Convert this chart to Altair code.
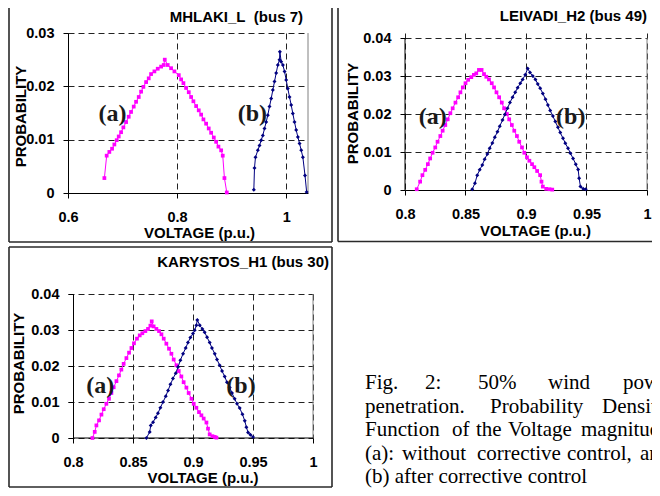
import altair as alt
import pandas as pd

# ---------------- data ----------------
# Panel 1: MHLAKI_L (bus 7)
A_VA = [0.6667, 0.6709, 0.6758, 0.6808, 0.685, 0.6893, 0.693, 0.6973, 0.7015, 0.7065,
        0.7113, 0.7156, 0.7205, 0.7248, 0.7297, 0.734, 0.7382, 0.7432, 0.748, 0.7523,
        0.7584, 0.7645, 0.7707, 0.7755, 0.7774, 0.7828, 0.789, 0.7951, 0.8031, 0.8074,
        0.8116, 0.8165, 0.8214, 0.8257, 0.8299, 0.8349, 0.8397, 0.8441, 0.8483, 0.8532,
        0.858, 0.8624, 0.8673, 0.8716, 0.8758, 0.8808, 0.8837, 0.8868, 0.8911]
A_PA = [0.0028, 0.0070, 0.0077, 0.0083, 0.0091, 0.0099, 0.0106, 0.0114, 0.0123, 0.0133,
        0.0143, 0.0152, 0.0162, 0.0171, 0.0180, 0.0190, 0.0199, 0.0208, 0.0215, 0.0223,
        0.0228, 0.0233, 0.0237, 0.0240, 0.0250, 0.0240, 0.0234, 0.0228, 0.0221, 0.0213,
        0.0206, 0.0197, 0.0189, 0.0180, 0.0172, 0.0163, 0.0155, 0.0147, 0.0138, 0.0130,
        0.0121, 0.0113, 0.0104, 0.0096, 0.0087, 0.0080, 0.0070, 0.0028, 0.0001]
A_VB = [0.9407, 0.9419, 0.9437, 0.948, 0.9511, 0.9542, 0.9572, 0.9603, 0.9633, 0.9663,
        0.9694, 0.9725, 0.9755, 0.9786, 0.9817, 0.9847, 0.9878, 0.9884, 0.9909, 0.9939,
        0.997, 1.0, 1.003, 1.0061, 1.0092, 1.0122, 1.0153, 1.0184, 1.0214, 1.0245,
        1.0276, 1.0306, 1.0345, 1.0375]
A_PB = [0.0006, 0.0047, 0.0067, 0.0080, 0.0089, 0.0099, 0.0108, 0.0121, 0.0133, 0.0146,
        0.0162, 0.0177, 0.0193, 0.0209, 0.0225, 0.0240, 0.0250, 0.0265, 0.0246, 0.0240,
        0.0228, 0.0212, 0.0196, 0.0180, 0.0165, 0.0149, 0.0133, 0.0118, 0.0105, 0.0093,
        0.0080, 0.0067, 0.0033, 0.0002]

# Panel 2: LEIVADI_H2 (bus 49)
B_VA = [0.8097, 0.8125, 0.8144, 0.8167, 0.8189, 0.8208, 0.8228, 0.825, 0.8269, 0.8292,
        0.8311, 0.8333, 0.8353, 0.8375, 0.8394, 0.8417, 0.8439, 0.8458, 0.8478, 0.85,
        0.8522, 0.8548, 0.8569, 0.8589, 0.8611, 0.8633, 0.8653, 0.8672, 0.8694, 0.8717,
        0.8736, 0.8756, 0.8778, 0.88, 0.8819, 0.8842, 0.8861, 0.8883, 0.8903, 0.8925,
        0.8944, 0.8967, 0.8986, 0.9008, 0.9028, 0.905, 0.9069, 0.9092, 0.9117, 0.9128,
        0.9139, 0.9167, 0.9194, 0.9217]
B_PA = [0.0002, 0.0022, 0.0039, 0.0053, 0.0068, 0.0083, 0.0098, 0.0112, 0.0127, 0.0142,
        0.0156, 0.0171, 0.0186, 0.0202, 0.0215, 0.0230, 0.0244, 0.0257, 0.0270, 0.0281,
        0.0290, 0.0297, 0.0303, 0.0307, 0.0316, 0.0316, 0.0305, 0.0298, 0.0291, 0.0281,
        0.0270, 0.0257, 0.0244, 0.0230, 0.0215, 0.0200, 0.0186, 0.0171, 0.0156, 0.0142,
        0.0127, 0.0112, 0.0098, 0.0086, 0.0077, 0.0068, 0.0060, 0.0050, 0.0039, 0.0022,
        0.0009, 0.0003, 0.0002, 0.0001]
B_VB = [0.8556, 0.8578, 0.8597, 0.8617, 0.8639, 0.8658, 0.8681, 0.87, 0.8722, 0.8742,
        0.8764, 0.8783, 0.8806, 0.8825, 0.8847, 0.8867, 0.8889, 0.8911, 0.8931, 0.8953,
        0.8972, 0.8994, 0.9014, 0.9033, 0.9056, 0.9078, 0.9097, 0.9117, 0.9139, 0.9161,
        0.9181, 0.92, 0.9222, 0.9242, 0.9264, 0.9283, 0.9306, 0.9325, 0.9347, 0.9367,
        0.9389, 0.9411, 0.9431, 0.9439, 0.945, 0.9472, 0.9494]
B_PB = [0.0002, 0.0018, 0.0039, 0.0053, 0.0066, 0.0081, 0.0095, 0.0110, 0.0124, 0.0139,
        0.0153, 0.0168, 0.0184, 0.0199, 0.0215, 0.0230, 0.0244, 0.0257, 0.0269, 0.0281,
        0.0291, 0.0303, 0.0320, 0.0309, 0.0300, 0.0291, 0.0279, 0.0268, 0.0254, 0.0239,
        0.0224, 0.0209, 0.0195, 0.0180, 0.0165, 0.0151, 0.0136, 0.0123, 0.0110, 0.0097,
        0.0083, 0.0068, 0.0054, 0.0031, 0.0009, 0.0003, 0.0002]

# Panel 3: KARYSTOS_H1 (bus 30)
C_VA = [0.8162, 0.8181, 0.8195, 0.8217, 0.8237, 0.8256, 0.8278, 0.83, 0.832, 0.8339,
        0.8362, 0.8383, 0.8403, 0.8422, 0.8445, 0.8467, 0.8487, 0.8508, 0.8533, 0.8556,
        0.8578, 0.8603, 0.8625, 0.8645, 0.8656, 0.8672, 0.8695, 0.8717, 0.8737, 0.8756,
        0.8778, 0.88, 0.882, 0.8839, 0.8862, 0.8881, 0.8903, 0.8922, 0.8945, 0.8964,
        0.8987, 0.9006, 0.9028, 0.905, 0.907, 0.9089, 0.9112, 0.9125, 0.9139, 0.9162,
        0.9181, 0.9195]
C_PA = [0.0000, 0.0017, 0.0035, 0.0049, 0.0065, 0.0080, 0.0095, 0.0109, 0.0125, 0.0141,
        0.0158, 0.0174, 0.0190, 0.0206, 0.0222, 0.0237, 0.0250, 0.0263, 0.0276, 0.0285,
        0.0291, 0.0297, 0.0303, 0.0312, 0.0324, 0.0310, 0.0303, 0.0297, 0.0288, 0.0276,
        0.0262, 0.0248, 0.0234, 0.0218, 0.0202, 0.0186, 0.0171, 0.0155, 0.0140, 0.0125,
        0.0109, 0.0095, 0.0084, 0.0072, 0.0063, 0.0054, 0.0043, 0.0026, 0.0010, 0.0005,
        0.0003, 0.0001]
C_VB = [0.8612, 0.8639, 0.8648, 0.8667, 0.8689, 0.8708, 0.8728, 0.875, 0.8773, 0.8792,
        0.8812, 0.8833, 0.8856, 0.8875, 0.8895, 0.8917, 0.8939, 0.8958, 0.8978, 0.9,
        0.9014, 0.9028, 0.9036, 0.9056, 0.9078, 0.9097, 0.9117, 0.9139, 0.9158, 0.9181,
        0.92, 0.9222, 0.9242, 0.9264, 0.9283, 0.9306, 0.9325, 0.9347, 0.9367, 0.9389,
        0.9412, 0.9431, 0.9445, 0.9459, 0.9478, 0.95]
C_PB = [0.0000, 0.0017, 0.0035, 0.0044, 0.0057, 0.0069, 0.0084, 0.0100, 0.0116, 0.0132,
        0.0149, 0.0165, 0.0180, 0.0197, 0.0216, 0.0234, 0.0250, 0.0265, 0.0279, 0.0290,
        0.0299, 0.0313, 0.0328, 0.0313, 0.0303, 0.0294, 0.0280, 0.0265, 0.0250, 0.0234,
        0.0218, 0.0202, 0.0186, 0.0171, 0.0155, 0.0140, 0.0125, 0.0109, 0.0095, 0.0083,
        0.0066, 0.0048, 0.0030, 0.0015, 0.0009, 0.0003]

TITLES = ["MHLAKI_L\u00a0 (bus 7)", "LEIVADI_H2 (bus 49)", "KARYSTOS_H1 (bus 30)"]
X_TITLE = "VOLTAGE (p.u.)"
Y_TITLE = "PROBABILITY"
SERIES_LABELS = ["(a)", "(b)"]
X_TICKS_A = [0.6, 0.8, 1.0]
Y_TICKS_A = [0, 0.01, 0.02, 0.03]
X_TICKS_BC = [0.8, 0.85, 0.9, 0.95, 1.0]
Y_TICKS_BC = [0, 0.01, 0.02, 0.03, 0.04]
# where the (a)/(b) annotations sit, in data units (voltage, probability)
LABEL_V = {"A": [0.6814, 0.938], "B": [0.8229, 0.937], "C": [0.8227, 0.940]}
LABEL_P = {"A": [0.0149, 0.0149], "B": [0.0191, 0.0191], "C": [0.0144, 0.0144]}

CAPTION_WORDS = [
    ["Fig.", "2:", "50%", "wind", "power"],
    ["penetration.", "Probability", "Density"],
    ["Function", "of", "the", "Voltage", "magnitude"],
    ["(a):", "without", "corrective", "control,", "and"],
    ["(b) after corrective control"],
]

# ---------------- layout / style ----------------
MAG, NAVY = "#FF00FF", "#000080"
SANS, SERIF = "Liberation Sans", "Liberation Serif"
FRAME = "#2a2a2a"
# justified caption: left edge of every word (page px) and line baselines
CAPTION_X = [[365, 425, 478, 548, 623], [365, 490, 602], [365, 452, 476, 508, 581],
             [365, 402, 477, 567, 640], [365]]
CAPTION_BASE = [389, 412.5, 436, 459.5, 483]
PAD_L, PAD_T = 60, 25          # page origin of the first plot = (8+60, 8+25)
SVG_W, SVG_H = 644, 480
T_ORIGIN = (405, 294)


def one():
    return pd.DataFrame({"k": [0]})


def series_df(v, p):
    return pd.DataFrame({"v": v, "p": p, "i": list(range(len(v)))})


def panel(key, va, pa, vb, pb, xdom, ydom, xticks, yticks, w, h, title, tpos,
          xt, yt, frame, x_domain_line=True, y_domain_line=True, yoff=0,
          extra=None):
    xs = alt.Scale(domain=xdom, nice=False, zero=False)
    ys = alt.Scale(domain=ydom, nice=False, zero=False)
    common = dict(grid=True, gridDash=[6, 4], gridColor="#222", gridWidth=1,
                  gridOpacity=1, domainColor="#000", domainWidth=1,
                  tickColor="#000", tickSize=5, tickWidth=1,
                  labelFont=SANS, labelFontWeight="bold", labelFontSize=14.5,
                  labelColor="#000", labelOverlap=False, format="~g",
                  titleFont=SANS, titleFontWeight="bold", titleFontSize=15,
                  titleColor="#000", titleAlign="center",
                  titleBaseline="alphabetic")
    xaxis = alt.Axis(values=xticks, title=X_TITLE, domain=x_domain_line,
                     labelFlush=False, labelBaseline="alphabetic",
                     labelPadding=23.5, titleX=xt[0], titleY=xt[1], **common)
    yaxis = alt.Axis(values=yticks, title=Y_TITLE, domain=y_domain_line,
                     labelPadding=9, offset=yoff, titleAngle=270,
                     titleX=yt[0], titleY=yt[1], **common)

    X = lambda f="v": alt.X(f"{f}:Q", scale=xs, axis=xaxis)
    Y = lambda f="p": alt.Y(f"{f}:Q", scale=ys, axis=yaxis)

    layers = []
    # chart frame (outer box of each Excel chart), in pixels around the plot
    fl, fr, ft, fb, sides = frame
    rule = dict(color=FRAME, strokeWidth=1.6)
    if "l" in sides:
        layers.append(alt.Chart(one()).mark_rule(**rule)
                      .encode(x=alt.value(fl), y=alt.value(ft), y2=alt.value(fb)))
    if "r" in sides:
        layers.append(alt.Chart(one()).mark_rule(**rule)
                      .encode(x=alt.value(fr), y=alt.value(ft), y2=alt.value(fb)))
    if "b" in sides:
        layers.append(alt.Chart(one()).mark_rule(**rule)
                      .encode(y=alt.value(fb), x=alt.value(fl), x2=alt.value(fr)))
    if "t" in sides:
        layers.append(alt.Chart(one()).mark_rule(**rule)
                      .encode(y=alt.value(ft), x=alt.value(fl), x2=alt.value(fr)))

    # plot-area right border
    ymax = yticks[-1]
    layers.append(alt.Chart(pd.DataFrame({"v": [xdom[1]], "p": [0], "p2": [ymax]}))
                  .mark_rule(color="#808080", strokeWidth=1)
                  .encode(x=X(), y=Y(), y2="p2:Q"))
    if extra:
        layers.extend(extra(X, Y))

    # the two curves
    da, db = series_df(va, pa), series_df(vb, pb)
    layers.append(alt.Chart(da).mark_line(
        color=MAG, strokeWidth=1,
        point=alt.OverlayMarkDef(shape="square", size=14, filled=True, color=MAG, opacity=1)
    ).encode(x=X(), y=Y(), order="i:Q"))
    layers.append(alt.Chart(db).mark_line(
        color=NAVY, strokeWidth=1,
        point=alt.OverlayMarkDef(shape="diamond", size=16, filled=True, color=NAVY, opacity=1)
    ).encode(x=X(), y=Y(), order="i:Q"))

    # (a) / (b)
    lab = pd.DataFrame({"v": LABEL_V[key], "p": LABEL_P[key], "t": SERIES_LABELS})
    layers.append(alt.Chart(lab).mark_text(font=SERIF, fontWeight="bold", fontSize=24,
                                           color="#1a1a1a", baseline="middle", align="center")
                  .encode(x=X(), y=Y(), text="t:N"))
    # chart title
    layers.append(alt.Chart(one()).mark_text(text=title, font=SANS, fontWeight="bold",
                                             fontSize=15, color="#000", align="right",
                                             baseline="alphabetic")
                  .encode(x=alt.value(tpos[0]), y=alt.value(tpos[1])))
    return alt.layer(*layers).properties(width=w, height=h)


# Panel A: plot origin at page (68, 33)
A = panel("A", A_VA, A_PA, A_VB, A_PB, [0.6, 1.04], [0, 0.03], X_TICKS_A, Y_TICKS_A,
          240, 160, TITLES[0], (235, -11.3), (131, 44.5), (-43, 83),
          (-59, 264, -33, 209, "lrb"))


def b_extra(X, Y):
    return [alt.Chart(pd.DataFrame({"v": [0.8], "p": [0], "p2": [0.04]}))
            .mark_rule(color="#000", strokeWidth=1).encode(x=X(), y=Y(), y2="p2:Q")]


# Panel B: plot origin at page (405, 33); 0.04 sits 5 px below the top
B = panel("B", B_VA, B_PA, B_VB, B_PB, [0.8, 1.0], [0, 0.04 * 157 / 152],
          X_TICKS_BC, Y_TICKS_BC, 242, 157, TITLES[1], (242, -11.8), (130, 45), (-48, 80),
          (-67, 300, -33, 208.5, "lb"), y_domain_line=False, extra=b_extra)


def c_extra(X, Y):
    return [alt.Chart(pd.DataFrame({"v": [0.8], "v2": [1.0], "p": [0]}))
            .mark_rule(color="#000", strokeWidth=1).encode(x=X(), x2="v2:Q", y=Y())]


# Panel C: plot origin at page (68, 294); 0.8 sits 5 px right of the origin
C = panel("C", C_VA, C_PA, C_VB, C_PB, [0.8 - 5 / 1200, 1.0], [0, 0.04],
          X_TICKS_BC, Y_TICKS_BC, 245, 144, TITLES[2], (261, -27.5), (134.5, 44.5), (-50, 69),
          (-59, 264, -47, 193, "lrbt"), x_domain_line=False, yoff=-5, extra=c_extra)

# caption
rows = []
for words, xs_, yb in zip(CAPTION_WORDS, CAPTION_X, CAPTION_BASE):
    for wd, xx in zip(words, xs_):
        rows.append({"w": wd, "px": xx - T_ORIGIN[0], "py": yb - T_ORIGIN[1]})
T = alt.Chart(pd.DataFrame(rows)).mark_text(
    align="left", baseline="alphabetic", font=SERIF, fontSize=21, color="#000"
).encode(x=alt.X("px:Q", scale=None, axis=None), y=alt.Y("py:Q", scale=None, axis=None),
         text="w:N").properties(width=242, height=144)

chart = alt.concat(A, B, C, T, columns=2, spacing={"row": 101, "column": 92},
                   bounds="flush", align="all").properties(
    autosize=alt.AutoSizeParams(type="none"),
    padding={"left": PAD_L, "top": PAD_T, "right": SVG_W - PAD_L, "bottom": SVG_H - PAD_T},
    background="white"
).configure(font=SANS).configure_view(stroke="transparent", strokeWidth=0)

chart.save("out.html", embed_options={"renderer": "svg", "actions": False})
